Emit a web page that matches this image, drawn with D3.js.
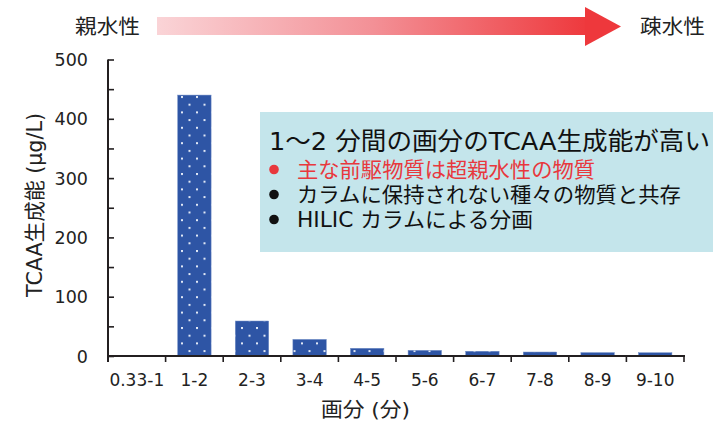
<!DOCTYPE html>
<html>
<head>
<meta charset="utf-8">
<script src="https://cdn.jsdelivr.net/npm/d3@7"></script>
<style>
  html, body { margin: 0; padding: 0; background: #fff; }
  svg { display: block; }
  text { font-family: "DejaVu Sans", "Noto Sans CJK JP", sans-serif; fill: #222; }
</style>
</head>
<body>
<svg id="chart" width="713" height="422"></svg>
<script>
// Fractions (elution time window, minutes) and TCAA formation potential (µg/L)
const fractions = ["0.33-1", "1-2", "2-3", "3-4", "4-5", "5-6", "6-7", "7-8", "8-9", "9-10"];
const tcaaValues = [0, 440, 59, 28, 13, 9.5, 8, 6.7, 5.7, 5.5];
const yMajorTicks = [0, 100, 200, 300, 400, 500];
const yMinorTicks = [0, 50, 100, 150, 200, 250, 300, 350, 400, 450, 500];

const noteTitle = "1～2 分間の画分のTCAA生成能が高い";
const noteLines = [
  { text: "主な前駆物質は超親水性の物質", color: "#E8383D", width: 298 },
  { text: "カラムに保持されない種々の物質と共存", color: "#111", width: 384 },
  { text: "HILIC カラムによる分画", color: "#111", width: 236 }
];

const svg = d3.select("#chart");
const plotLeft = 108, plotRight = 684, plotTop = 59.5, plotBottom = 356;

const x = d3.scaleBand().domain(fractions).range([plotLeft, plotRight])
  .paddingInner(0.42).paddingOuter(0.21);
const y = d3.scaleLinear().domain([0, 500]).range([plotBottom, plotTop]);

// Dotted fill for the bars
const defs = svg.append("defs");
const pat = defs.append("pattern").attr("id", "dots")
  .attr("patternUnits", "userSpaceOnUse")
  .attr("x", 181).attr("y", 96).attr("width", 15).attr("height", 15.4);
pat.append("rect").attr("width", 15).attr("height", 15.4).attr("fill", "#2E55A5");
pat.append("rect").attr("x", 0).attr("y", 0).attr("width", 2).attr("height", 2).attr("fill", "#E2E9F6");
pat.append("rect").attr("x", 7.5).attr("y", 7.7).attr("width", 2).attr("height", 2).attr("fill", "#E2E9F6");

// Hydrophilic -> hydrophobic arrow
const grad = defs.append("linearGradient").attr("id", "arrowGrad")
  .attr("gradientUnits", "userSpaceOnUse")
  .attr("x1", 157).attr("x2", 590).attr("y1", 0).attr("y2", 0);
grad.append("stop").attr("offset", 0).attr("stop-color", "#FAD4D7");
grad.append("stop").attr("offset", 0.5).attr("stop-color", "#F39096");
grad.append("stop").attr("offset", 1).attr("stop-color", "#EE383C");

svg.append("rect").attr("x", 157).attr("y", 17).attr("width", 430).attr("height", 18)
  .attr("fill", "url(#arrowGrad)");
svg.append("path").attr("d", "M585,7 L621,26.5 L585,46 Z").attr("fill", "#EE383C");
svg.append("text").attr("x", 75).attr("y", 34).attr("font-size", 20.5)
  .attr("textLength", 65).attr("lengthAdjust", "spacingAndGlyphs").text("親水性");
svg.append("text").attr("x", 640).attr("y", 34).attr("font-size", 20.5)
  .attr("textLength", 65).attr("lengthAdjust", "spacingAndGlyphs").text("疎水性");

// Bars
svg.append("g").selectAll("rect")
  .data(fractions.map((f, i) => ({ f, v: tcaaValues[i] })))
  .join("rect")
  .attr("x", d => x(d.f))
  .attr("width", x.bandwidth())
  .attr("y", d => y(d.v))
  .attr("height", d => y(0) - y(d.v))
  .attr("fill", "url(#dots)")
  .attr("stroke", "#6F8CC6").attr("stroke-width", 0.5);

// Y axis: minor ticks every 50 pointing inward, labels every 100
const yAxisG = svg.append("g").attr("transform", `translate(${plotLeft},0)`);
yAxisG.call(d3.axisRight(y).tickValues(yMinorTicks).tickSize(6).tickFormat(""))
  .call(g => g.select(".domain").remove())
  .call(g => g.selectAll("line").attr("stroke", "#231F20").attr("stroke-width", 1.6));
yAxisG.append("line").attr("x1", 0).attr("x2", 0).attr("y1", plotTop).attr("y2", plotBottom + 6)
  .attr("stroke", "#231F20").attr("stroke-width", 2);
svg.append("g").selectAll("text").data(yMajorTicks).join("text")
  .attr("x", 88).attr("y", d => y(d) + 6.5).attr("text-anchor", "end")
  .attr("font-size", 17.5).text(d => d);

// X axis: ticks at band boundaries
const boundaries = fractions.map(f => x(f) - x.step() * x.paddingInner() / 2);
boundaries[0] = plotLeft;
boundaries.push(plotRight);
svg.append("g").selectAll("line").data(boundaries).join("line")
  .attr("x1", d => d).attr("x2", d => d).attr("y1", plotBottom).attr("y2", plotBottom + 6)
  .attr("stroke", "#231F20").attr("stroke-width", 1.6);
svg.append("line").attr("x1", plotLeft).attr("x2", plotRight + 1).attr("y1", plotBottom).attr("y2", plotBottom)
  .attr("stroke", "#231F20").attr("stroke-width", 2);
svg.append("g").selectAll("text").data(fractions).join("text")
  .attr("x", d => x(d) + x.bandwidth() / 2).attr("y", 386)
  .attr("text-anchor", "middle").attr("font-size", 17).text(d => d);

// Axis titles
svg.append("text").attr("x", 365.5).attr("y", 417).attr("text-anchor", "middle")
  .attr("font-size", 20).attr("textLength", 89).attr("lengthAdjust", "spacingAndGlyphs")
  .text("画分 (分)");
svg.append("text").attr("transform", "translate(42,205) rotate(-90)")
  .attr("text-anchor", "middle").attr("font-size", 21)
  .attr("textLength", 184).attr("lengthAdjust", "spacingAndGlyphs")
  .text("TCAA生成能 (μg/L)");

// Note panel
svg.append("rect").attr("x", 260).attr("y", 112).attr("width", 453).attr("height", 140)
  .attr("fill", "#C4E5EB");
svg.append("text").attr("x", 269).attr("y", 150).attr("font-size", 25)
  .attr("textLength", 441).attr("lengthAdjust", "spacingAndGlyphs")
  .style("fill", "#111").text(noteTitle);
noteLines.forEach((ln, i) => {
  const by = 176.5 + i * 25;
  svg.append("circle").attr("cx", 274).attr("cy", by - 7).attr("r", 4.8).attr("fill", ln.color);
  svg.append("text").attr("x", 297).attr("y", by).attr("font-size", 21)
    .attr("textLength", ln.width).attr("lengthAdjust", "spacingAndGlyphs")
    .style("fill", ln.color).text(ln.text);
});
</script>
</body>
</html>
